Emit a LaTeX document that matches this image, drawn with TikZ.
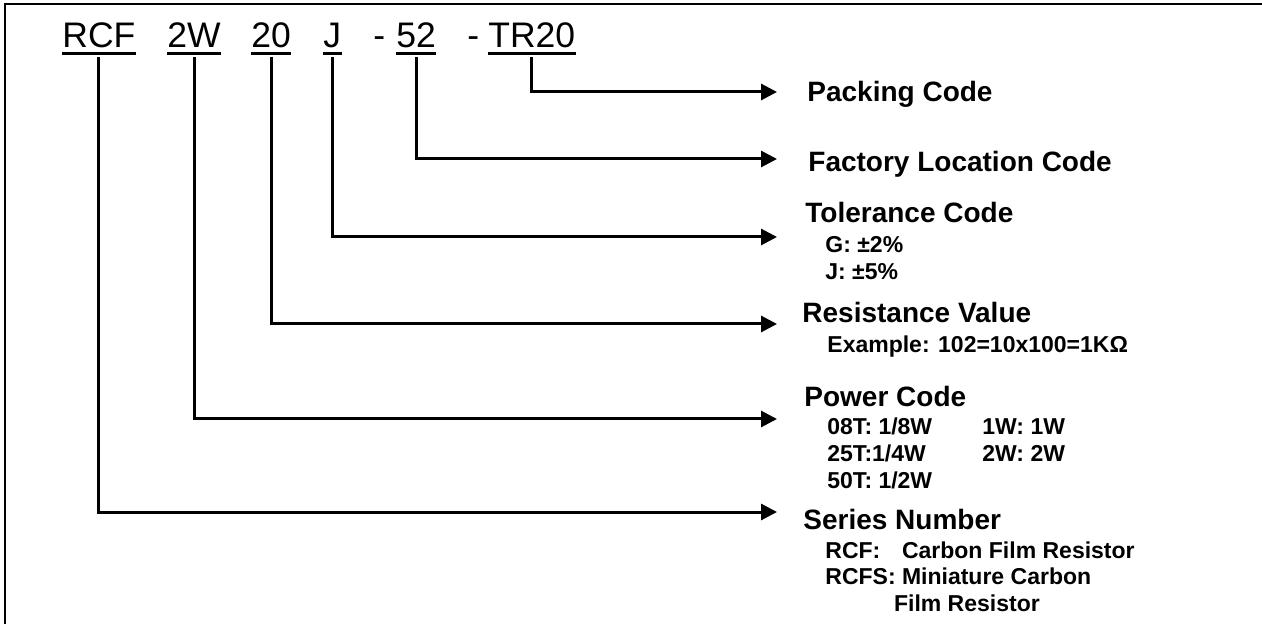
\documentclass[tikz,border=0pt]{standalone}
\usepackage{fontspec}
\setmainfont{Liberation Sans}
\usetikzlibrary{arrows.meta,positioning}

\newcommand{\subsize}{\fontsize{11.5}{13.35}\selectfont\bfseries}

\begin{document}
\begin{tikzpicture}[x=0.5pt,y=-0.5pt,
    part/.style={anchor=base west, inner sep=0pt, font=\fontsize{17.75}{20}\selectfont},
    uline/.style={line width=1.5pt},
    conn/.style={line width=1.5pt, -{Triangle[length=8pt,width=8pt]}},
    head/.style={anchor=base west, inner sep=0pt, font=\fontsize{14}{16}\selectfont\bfseries},
    sub/.style={anchor=base west, inner sep=0pt, font=\subsize}]
	\useasboundingbox (0,0) rectangle (1262,624);
	\clip (0,0) rectangle (1262,624);
	\draw[line width=1pt] (5,624) -- (5,4) -- (1262,4);

	% part number
	\node[part] (rcf) at (62,48) {RCF};
	\node[part] (pw) at (167,48) {2W};
	\node[part] (rv) at (251,48) {20};
	\node[part] (tol) at (323,48) {J};
	\node[part] (dasha) at (373,48) {-};
	\node[part] (fac) at (396,48) {52};
	\node[part] (dashb) at (467,48) {-};
	\node[part] (pack) at (488,48) {TR20};

	\foreach \p in {rcf,pw,rv,tol,fac,pack} {
		\draw[uline] ([yshift=-2.75pt]\p.base west) -- ([yshift=-2.75pt]\p.base east);
	}

	% arrow ends
	\coordinate (packend) at (777,92);
	\coordinate (facend) at (777,159);
	\coordinate (tolend) at (777,237);
	\coordinate (rvend) at (777,324);
	\coordinate (pwend) at (777,419);
	\coordinate (rcfend) at (777,512);

	\draw[conn] ([yshift=-4.5pt]pack.base) |- (packend);
	\draw[conn] ([yshift=-4.5pt]fac.base) |- (facend);
	\draw[conn] ([yshift=-4.5pt]tol.base) |- (tolend);
	\draw[conn] ([yshift=-4.5pt]rv.base) |- (rvend);
	\draw[conn] ([yshift=-4.5pt]pw.base) |- (pwend);
	\draw[conn] ([yshift=-4.5pt]rcf.base) |- (rcfend);

	% descriptions
	\node[head] (packlbl) at (807,102) {Packing Code};
	\node[head] (faclbl) at (808,172) {Factory Location Code};

	\node[head] (tollbl) at (805,223) {Tolerance Code};
	\node[sub] (tolsub) at (825,253) {\begin{tabular}[t]{@{}l@{}}G: ±2\%\\ J: ±5\%\end{tabular}};

	\node[head] (rvlbl) at (802,323) {Resistance Value};
	\node[sub] (rvsub) at (827,353) {Example: 102=10x100=1KΩ};

	\node[head] (pwlbl) at (804,407) {Power Code};
	\node[sub] (pwsub) at (827,435) {\begin{tabular}[t]{@{}l@{}}
		\makebox[77.5pt][l]{08T: 1/8W}1W: 1W\\
		\makebox[77.5pt][l]{25T:1/4W}2W: 2W\\
		50T: 1/2W\end{tabular}};

	\node[head] (rcflbl) at (803,529) {Series Number};
	\node[sub] (rcfsub) at (825,558) {\begin{tabular}[t]{@{}l@{ }l@{}}
		RCF: & Carbon Film Resistor\\
		RCFS: & Miniature Carbon\\
		& \hspace*{-4pt}Film Resistor\end{tabular}};
\end{tikzpicture}
\end{document}
